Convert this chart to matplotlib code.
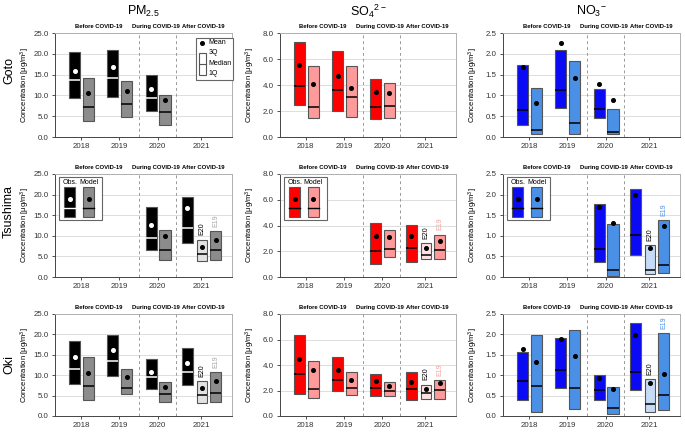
import matplotlib
matplotlib.use("Agg")
import matplotlib.pyplot as plt
from matplotlib.patches import Rectangle

plt.rcParams["font.family"] = ["Liberation Sans", "DejaVu Sans"]
plt.rcParams["mathtext.default"] = "regular"

YEARS = ["2018", "2019", "2020", "2021"]
SITES = ["Goto", "Tsushima", "Oki"]
SPECIES = ["PM$_{2.5}$", "SO$_4$$^{2-}$", "NO$_3$$^{-}$"]
PERIODS = ["Before COVID-19", "During COVID-19", "After COVID-19"]
Y_MAX = [25.0, 8.0, 2.5]
Y_STEP = [5.0, 2.0, 0.5]

# which boxes each site has: (year, kind)
GOTO_BOXES = [("2018", "obs"), ("2018", "model"), ("2019", "obs"), ("2019", "model"),
              ("2020", "obs"), ("2020", "model")]
TSUSHIMA_BOXES = [("2020", "obs"), ("2020", "model"), ("2021", "obs"),
                  ("2021", "E20"), ("2021", "E19")]
OKI_BOXES = GOTO_BOXES + [("2021", "obs"), ("2021", "E20"), ("2021", "E19")]

# (1Q, median, 3Q, mean) per box
PM25_GOTO = [(9.4, 13.7, 20.4, 15.9), (3.9, 7.2, 14.3, 10.5), (9.7, 14.2, 21.0, 16.9),
             (4.7, 8.0, 13.5, 11.1), (6.3, 9.4, 14.9, 11.6), (2.9, 5.9, 10.1, 8.8)]
PM25_TSUSHIMA = [(6.6, 9.5, 16.9, 12.7), (4.1, 6.6, 11.4, 9.9), (8.3, 11.9, 19.3, 16.7),
                 (4.0, 5.5, 9.1, 7.2), (4.1, 6.5, 11.1, 9.1)]
PM25_OKI = [(7.9, 11.5, 18.3, 14.4), (3.8, 7.4, 14.4, 10.5), (9.9, 13.4, 19.9, 16.2),
            (5.4, 6.9, 11.5, 9.6), (6.6, 9.5, 14.0, 10.9), (3.5, 5.4, 8.3, 7.0),
            (7.5, 10.8, 16.7, 13.0), (3.1, 5.1, 8.6, 6.9), (3.5, 5.6, 10.7, 8.6)]

SO4_GOTO = [(2.45, 3.95, 7.3, 5.56), (1.5, 2.27, 5.5, 4.1), (2.0, 3.6, 6.6, 4.7),
            (1.56, 3.1, 5.5, 3.78), (1.38, 2.3, 4.43, 3.46), (1.43, 2.37, 4.14, 3.36)]
SO4_TSUSHIMA = [(1.04, 2.0, 4.22, 3.2), (1.56, 2.21, 3.65, 3.07), (1.17, 2.24, 4.0, 3.2),
                (1.38, 1.72, 2.66, 2.29), (1.43, 2.13, 3.3, 2.76)]
SO4_OKI = [(1.7, 3.27, 6.35, 4.47), (1.39, 2.09, 4.34, 3.6), (1.99, 2.82, 4.63, 3.6),
           (1.62, 2.17, 3.45, 2.82), (1.54, 2.22, 3.32, 2.72), (1.57, 1.96, 2.69, 2.35),
           (1.25, 2.09, 3.45, 2.64), (1.33, 1.78, 2.46, 2.14), (1.36, 2.01, 2.82, 2.56)]

NO3_GOTO = [(0.3, 0.64, 1.73, 1.68), (0.07, 0.18, 1.18, 0.82), (0.69, 1.13, 2.1, 2.26),
            (0.08, 0.33, 1.82, 1.41), (0.45, 0.68, 1.16, 1.27), (0.07, 0.11, 0.68, 0.88)]
NO3_TSUSHIMA = [(0.37, 0.68, 1.78, 1.7), (0.03, 0.17, 1.29, 1.3), (0.54, 1.02, 2.13, 1.99),
                (0.07, 0.17, 0.78, 0.7), (0.09, 0.28, 1.39, 1.25)]
NO3_OKI = [(0.4, 0.86, 1.56, 1.64), (0.1, 0.73, 1.99, 1.32), (0.68, 1.12, 1.91, 1.88),
           (0.17, 0.68, 2.11, 1.47), (0.4, 0.64, 1.01, 0.94), (0.06, 0.19, 0.71, 0.66),
           (0.64, 1.07, 2.27, 1.99), (0.1, 0.29, 0.9, 0.81), (0.15, 0.52, 2.03, 1.03)]

PANEL_DATA = [
    [(GOTO_BOXES, PM25_GOTO), (GOTO_BOXES, SO4_GOTO), (GOTO_BOXES, NO3_GOTO)],
    [(TSUSHIMA_BOXES, PM25_TSUSHIMA), (TSUSHIMA_BOXES, SO4_TSUSHIMA), (TSUSHIMA_BOXES, NO3_TSUSHIMA)],
    [(OKI_BOXES, PM25_OKI), (OKI_BOXES, SO4_OKI), (OKI_BOXES, NO3_OKI)],
]

# styling
FILL = [
    {"obs": "#000000", "model": "#8c8c8c", "E20": "#e2e2e2", "E19": "#8c8c8c"},
    {"obs": "#ff0000", "model": "#ff9a9a", "E20": "#ffe3e3", "E19": "#ff9a9a"},
    {"obs": "#0a0af5", "model": "#4a90e6", "E20": "#c6dcf6", "E19": "#4a90e6"},
]
E19_TEXT = ["#a6a6a6", "#f4a0a0", "#4a90e6"]
OBS_MARK = ["white", "black", "black"]
WIDTH = {"obs": 0.29, "model": 0.29, "E20": 0.26, "E19": 0.29}
OFFSET = {"obs": -0.17, "model": 0.19, "E20": 0.15, "E19": 0.51}
TICK_POS = [0, 1, 2, 3.13]

W, H = 685, 432
COL_LEFT = [55, 280, 503]
COL_W = [177, 176, 177]
ROW_TOP = [33, 174, 314]
ROW_H = [104, 103, 102]


def x_of(year, kind):
    i = YEARS.index(year)
    off = OFFSET[kind]
    if year == "2021" and kind == "obs":
        off = -0.23
    return i + off


def draw_panel(ax, col, boxes, stats):
    for (year, kind), (q1, med, q3, mean) in zip(boxes, stats):
        x = x_of(year, kind)
        w = WIDTH[kind]
        ax.add_patch(Rectangle((x - w / 2, q1), w, q3 - q1, facecolor=FILL[col][kind],
                               edgecolor="#555555", linewidth=0.8, zorder=3))
        c = OBS_MARK[col] if kind == "obs" else "black"
        ax.plot([x - w / 2, x + w / 2], [med, med], color=c, lw=1.1, zorder=4,
                solid_capstyle="butt")
        ax.plot(x, mean, "o", color=c, ms=2.6, zorder=5)
        if kind in ("E20", "E19"):
            ax.annotate(kind, (x, q3), xytext=(0, 3), textcoords="offset points",
                        rotation=90, ha="center", va="bottom", fontsize=5,
                        color="black" if kind == "E20" else E19_TEXT[col])


def obs_model_legend(ax, col):
    t = ax.transAxes
    ax.add_patch(Rectangle((0.023, 0.553), 0.242, 0.417, transform=t, facecolor="white",
                           edgecolor="#666666", lw=0.8, zorder=6))
    for kind, x0, x1, label in (("obs", 0.053, 0.115, "Obs."), ("model", 0.16, 0.219, "Model")):
        ax.add_patch(Rectangle((x0, 0.58), x1 - x0, 0.291, transform=t,
                               facecolor=FILL[col][kind], edgecolor="#555555", lw=0.8, zorder=7))
        c = OBS_MARK[col] if kind == "obs" else "black"
        ax.plot([x0, x1], [0.667, 0.667], transform=t, color=c, lw=1.0, zorder=8)
        ax.plot((x0 + x1) / 2, 0.757, "o", transform=t, color=c, ms=2.6, zorder=8)
        ax.text((x0 + x1) / 2, 0.915, label, transform=t, ha="center", va="center",
                fontsize=5, zorder=8)


def stat_legend(ax):
    t = ax.transAxes
    ax.add_patch(Rectangle((0.797, 0.55), 0.21, 0.40, transform=t, facecolor="white",
                           edgecolor="#666666", lw=0.8, zorder=6, clip_on=False))
    ax.plot(0.832, 0.904, "o", transform=t, color="black", ms=2.6, zorder=8)
    ax.add_patch(Rectangle((0.814, 0.596), 0.039, 0.212, transform=t, facecolor="white",
                           edgecolor="#555555", lw=0.8, zorder=7))
    ax.plot([0.814, 0.853], [0.702, 0.702], transform=t, color="#555555", lw=0.8, zorder=8)
    for y, s in ((0.904, "Mean"), (0.808, "3Q"), (0.702, "Median"), (0.606, "1Q")):
        ax.text(0.868, y, s, transform=t, ha="left", va="center", fontsize=5, zorder=8)


fig = plt.figure(figsize=(W / 100, H / 100), dpi=100)

for r in range(3):
    for c in range(3):
        ax = fig.add_axes([COL_LEFT[c] / W, 1 - (ROW_TOP[r] + ROW_H[r]) / H,
                           COL_W[c] / W, ROW_H[r] / H])
        boxes, stats = PANEL_DATA[r][c]
        draw_panel(ax, c, boxes, stats)
        ax.set_xlim(-0.68, 3.94)
        ax.set_ylim(0, Y_MAX[c])
        yt = [i * Y_STEP[c] for i in range(int(round(Y_MAX[c] / Y_STEP[c])) + 1)]
        ax.set_yticks(yt)
        ax.set_yticklabels([f"{v:.1f}" for v in yt])
        ax.set_xticks(TICK_POS)
        ax.set_xticklabels(YEARS)
        ax.tick_params(axis="both", labelsize=5.7, length=2.5, width=0.6, pad=2,
                       colors="#333333")
        ax.grid(axis="y", color="#dddddd", lw=0.7, zorder=0)
        ax.set_axisbelow(True)
        for s in ("top", "right"):
            ax.spines[s].set_color("#b0b0b0")
            ax.spines[s].set_linewidth(0.7)
        for s in ("left", "bottom"):
            ax.spines[s].set_color("#444444")
            ax.spines[s].set_linewidth(0.7)
        for xv in (1.5, 2.47):
            ax.axvline(xv, color="#999999", lw=0.7, ls=(0, (3, 3)), zorder=1)
        for xv, label in zip((0.45, 1.95, 3.18), PERIODS):
            ax.text(xv, 1.06, label, transform=ax.get_xaxis_transform(), ha="center",
                    va="center", fontsize=4.2, fontweight="bold")
        ax.set_ylabel("Concentration [μg/m$^3$]", fontsize=5.5)
        ax.yaxis.set_label_coords(-23 / COL_W[c], 0.5)
        if r == 1:
            obs_model_legend(ax, c)
        if r == 0 and c == 0:
            stat_legend(ax)

for c in range(3):
    fig.text((COL_LEFT[c] + COL_W[c] / 2) / W, 1 - 11 / H, SPECIES[c], ha="center",
             va="center", fontsize=9)

for y, site in zip((70, 212, 364), SITES):
    fig.text(9 / W, 1 - y / H, site, rotation=90, ha="center", va="center", fontsize=9)

fig.savefig("out.png", dpi=100)
